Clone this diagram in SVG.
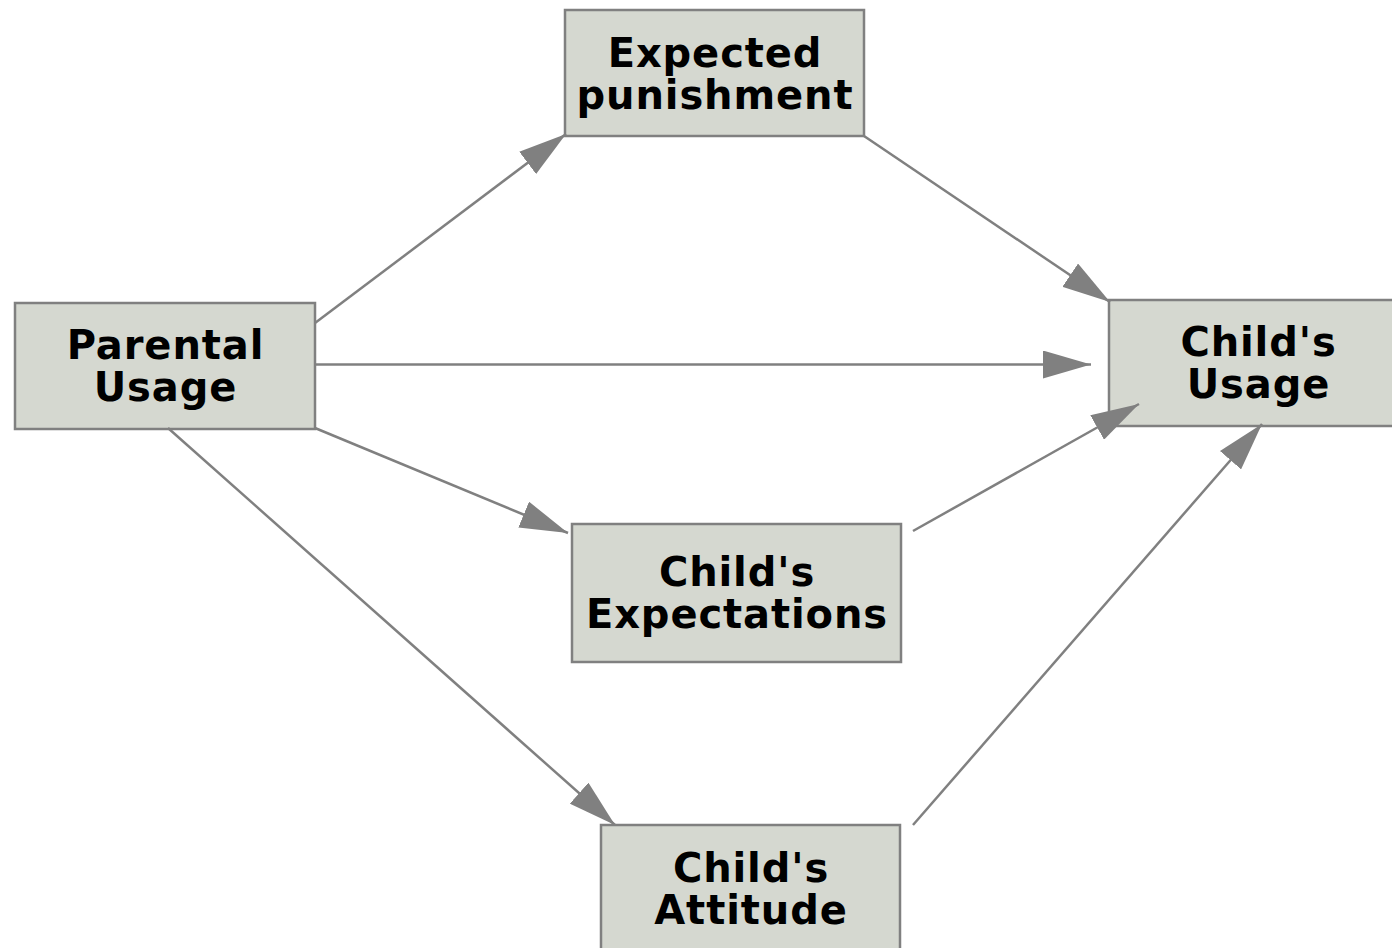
<svg xmlns="http://www.w3.org/2000/svg" width="1392" height="948" viewBox="0 0 1392 948">
<style>
.box{fill:#d5d8d0;stroke:#808080;stroke-width:2.5}
.lbl{font-family:"DejaVu Sans",Verdana,sans-serif;font-weight:bold;font-size:40px;letter-spacing:0.9px;fill:#000;text-anchor:middle}
.edge{stroke:#808080;stroke-width:2.5;fill:none;marker-end:url(#arr)}
</style>
<defs>
<marker id="arr" markerUnits="userSpaceOnUse" markerWidth="48" markerHeight="28" refX="48" refY="14" orient="auto">
<path d="M0,0 L48,14 L0,28 z" fill="#808080"/>
</marker>
</defs>
<rect width="1392" height="948" fill="#fff"/>
<g id="expected-punishment">
<rect class="box" x="565" y="10" width="299" height="126"/>
<text class="lbl" x="715" y="67">Expected</text>
<text class="lbl" x="715" y="109">punishment</text>
</g>
<g id="parental-usage">
<rect class="box" x="15" y="303" width="300" height="126"/>
<text class="lbl" x="165.5" y="359">Parental</text>
<text class="lbl" x="165.5" y="401">Usage</text>
</g>
<g id="childs-usage">
<rect class="box" x="1109" y="300" width="298" height="126"/>
<text class="lbl" x="1258.5" y="356">Child's</text>
<text class="lbl" x="1258.5" y="398">Usage</text>
</g>
<g id="childs-expectations">
<rect class="box" x="572" y="524" width="329" height="138"/>
<text class="lbl" x="737" y="586">Child's</text>
<text class="lbl" x="737" y="628">Expectations</text>
</g>
<g id="childs-attitude">
<rect class="box" x="601" y="825" width="299" height="140"/>
<text class="lbl" x="751" y="882">Child's</text>
<text class="lbl" x="751" y="924">Attitude</text>
</g>
<g id="connectors">
<line class="edge" x1="315" y1="323" x2="566" y2="134"/>
<line class="edge" x1="315" y1="364.5" x2="1091" y2="364.5"/>
<line class="edge" x1="315" y1="428" x2="568" y2="533"/>
<line class="edge" x1="168" y1="428" x2="615" y2="825"/>
<line class="edge" x1="864" y1="136" x2="1110" y2="302"/>
<line class="edge" x1="913" y1="531" x2="1139" y2="404"/>
<line class="edge" x1="913" y1="825" x2="1262" y2="424"/>
</g>
</svg>
